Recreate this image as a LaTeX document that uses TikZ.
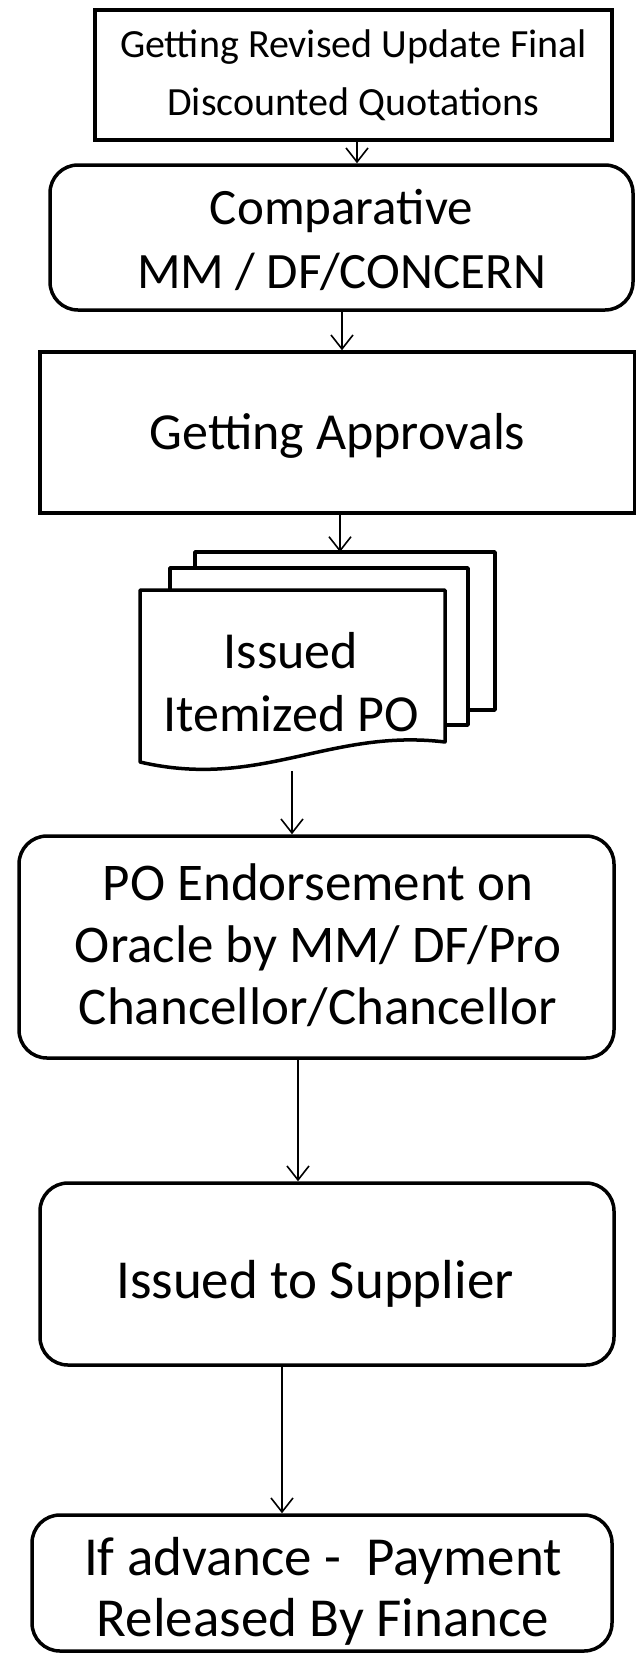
\documentclass[tikz,border=0pt]{standalone}
\usepackage{fontspec}
\setmainfont{Carlito}
\usetikzlibrary{arrows.meta}
\begin{document}
\begin{tikzpicture}[x=1pt,y=-1pt]
\tikzset{
  box/.style={draw, line width=3.5pt, fill=white, align=center, inner sep=0pt, font=\fontsize{52}{62}\selectfont},
  rbox/.style={box, rounded corners=28pt},
  page/.style={draw, line width=3.5pt, fill=white, line join=round},
  arr/.style={line width=1.6pt, -{Straight Barb[length=14pt,width=22pt,line width=1.6pt]}},
  lbl/.style={align=center, inner sep=0pt}
}
\useasboundingbox (0,0) rectangle (636,1660);
% boxes
\node[box, minimum width=517pt, minimum height=130pt] (b1) at (353.5,75) {};
\node[lbl, font=\fontsize{40}{58}\selectfont] at (b1) {Getting Revised Update Final\\Discounted Quotations};
\node[rbox, minimum width=583pt, minimum height=145pt] (b2) at (341.5,237.5) {};
\node[lbl, font=\fontsize{51}{64}\selectfont] at (341.5,240) {Comparative\\MM / DF/CONCERN};
\node[box, minimum width=595pt, minimum height=161pt] (b3) at (337.5,432.5) {};
\node[lbl, font=\fontsize{52}{62}\selectfont] at (337.5,436) {Getting Approvals};
% document stack
\draw[page] (195,552) rectangle (495,710);
\draw[page] (170,568) rectangle (468,725);
\draw[page] (140,590) -- (445,590) -- (445,742) .. controls (330,728) and (260,790) .. (140,762) -- cycle;
\node[lbl, font=\fontsize{52}{63}\selectfont] (doc) at (291,682) {Issued\\Itemized PO};
\coordinate (docin) at (340,552);
\coordinate (docout) at (292,771);
\node[rbox, minimum width=595pt, minimum height=222pt] (b5) at (316.5,947) {};
\node[lbl, font=\fontsize{53}{62}\selectfont] at (318,945) {PO Endorsement on\\Oracle by MM/ DF/Pro\\Chancellor/Chancellor};
\node[rbox, minimum width=574pt, minimum height=182pt] (b6) at (327,1274) {};
\node[lbl, font=\fontsize{55}{62}\selectfont] at (315,1284) {Issued to Supplier};
\node[rbox, minimum width=580pt, minimum height=136pt] (b7) at (322,1583) {};
\node[lbl, font=\fontsize{55}{61}\selectfont] at (323,1591) {If advance -\ \ Payment\\Released By Finance};
% columns
\coordinate (c1) at (357,0);
\coordinate (c2) at (342,0);
\coordinate (c4) at (298,0);
\coordinate (c5) at (282,0);
% arrows
\draw[arr] (b1.south -| c1) -- (b2.north -| c1);
\draw[arr] (b2.south -| c2) -- (b3.north -| c2);
\draw[arr] (b3.south -| docin) -- (docin);
\draw[arr] (docout) -- (b5.north -| docout);
\draw[arr] (b5.south -| c4) -- (b6.north -| c4);
\draw[arr] (b6.south -| c5) -- (b7.north -| c5);
\end{tikzpicture}
\end{document}
